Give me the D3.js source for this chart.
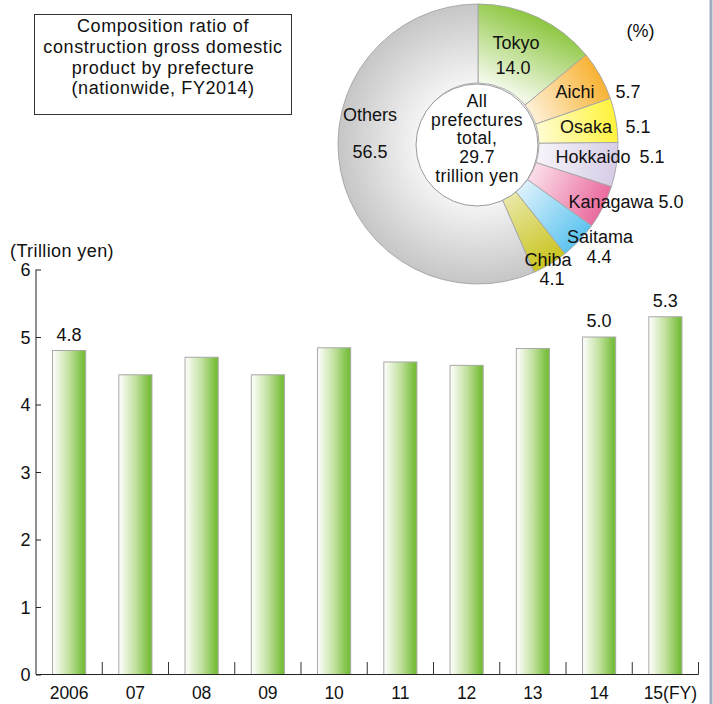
<!DOCTYPE html>
<html>
<head>
<meta charset="utf-8">
<script src="https://cdn.jsdelivr.net/npm/d3@7"></script>
<style>
  html, body { margin: 0; padding: 0; background: #fff; }
  svg { display: block; font-family: "Liberation Sans", Arial, Helvetica, sans-serif; fill: #111; }
</style>
</head>
<body>
<svg id="chart" width="713" height="704"></svg>
<script>
// Construction gross domestic product, nationwide (trillion yen)
const years = ["2006", "07", "08", "09", "10", "11", "12", "13", "14", "15(FY)"];
const gdp = [4.8, 4.44, 4.70, 4.44, 4.84, 4.63, 4.58, 4.83, 5.0, 5.3];
const labelledYears = ["2006", "14", "15(FY)"];
const yTicks = [0, 1, 2, 3, 4, 5, 6];

// Share of construction GDP by prefecture, FY2014 (%)
const prefectures = ["Tokyo", "Aichi", "Osaka", "Hokkaido", "Kanagawa", "Saitama", "Chiba", "Others"];
const shares = [14.0, 5.7, 5.1, 5.1, 5.0, 4.4, 4.1, 56.5];
const totalTrillionYen = 29.7;

const titleLines = ["Composition ratio of", "construction gross domestic", "product by prefecture", "(nationwide, FY2014)"];

// Slice colours: saturated tone at the rim, pale tone toward the hole
const sliceDark  = ["#8cc63f", "#f8b233", "#fff33b", "#d6cde6", "#ea6a9e", "#5cc3ef", "#c9c41e", "#c6c6c6"];
const sliceLight = ["#f1f8e6", "#fef0d6", "#fffcd2", "#f6f3fa", "#fbdeea", "#dcf1fb", "#e9e7a6", "#f4f4f4"];

// Label anchors relative to the pie centre: [name dx, name dy, value dx, value dy]
const labelSpots = {
  Tokyo:    [38, -95, 35, -70],
  Aichi:    [97, -46, 150, -46],
  Osaka:    [108, -11, 160, -11],
  Hokkaido: [115, 19, 174, 19],
  Kanagawa: [133, 64, 193, 64],
  Saitama:  [122, 99, 121, 119],
  Chiba:    [70, 122, 74, 141],
  Others:   [-108, -23, -108, 14]
};

const svg = d3.select("#chart");
const defs = svg.append("defs");
const fmt = d3.format(".1f");

// ---------- bar chart ----------
const x = d3.scaleBand().domain(years).range([36, 698.5]).paddingInner(0.5).paddingOuter(0.25);
const y = d3.scaleLinear().domain([0, 6]).range([674.5, 269.5]);

const barGrad = defs.append("linearGradient").attr("id", "barGrad")
  .attr("x1", 0).attr("x2", 1).attr("y1", 0).attr("y2", 0);
barGrad.append("stop").attr("offset", 0).attr("stop-color", "#ffffff");
barGrad.append("stop").attr("offset", 0.5).attr("stop-color", "#c2e19f");
barGrad.append("stop").attr("offset", 0.92).attr("stop-color", "#79bf3d");
barGrad.append("stop").attr("offset", 1).attr("stop-color", "#76bd3a");

svg.append("g").selectAll("rect").data(years).join("rect")
  .attr("x", d => x(d))
  .attr("y", (d, i) => y(gdp[i]))
  .attr("width", x.bandwidth())
  .attr("height", (d, i) => y(0) - y(gdp[i]))
  .attr("fill", "url(#barGrad)")
  .attr("stroke", "#a8a8a8")
  .attr("stroke-width", 1);

svg.append("g").selectAll("text").data(years.filter(d => labelledYears.includes(d))).join("text")
  .attr("x", d => x(d) + x.bandwidth() / 2)
  .attr("y", d => y(gdp[years.indexOf(d)]) - 10)
  .attr("text-anchor", "middle")
  .attr("font-size", 18)
  .text(d => fmt(gdp[years.indexOf(d)]));

// y axis: ticks point inward
const yAxis = d3.axisRight(y).tickValues(yTicks).tickSize(5).tickFormat("");
const yg = svg.append("g").attr("transform", "translate(36,0)").call(yAxis);
yg.select(".domain").attr("d", `M0,${y(6)}V${y(0)}`).attr("stroke", "#222");
yg.selectAll(".tick line").attr("stroke", "#222");
svg.append("g").selectAll("text").data(yTicks).join("text")
  .attr("x", 30.5)
  .attr("y", d => y(d) + 6.5)
  .attr("text-anchor", "end")
  .attr("font-size", 18)
  .text(d => d);

svg.append("text").attr("x", 10).attr("y", 257).attr("font-size", 18)
  .attr("letter-spacing", 0.4).text("(Trillion yen)");

// x axis with short separators between categories
const xg = svg.append("g");
xg.append("line").attr("x1", 36).attr("x2", 698.5).attr("y1", y(0)).attr("y2", y(0))
  .attr("stroke", "#222");
const bounds = years.map((d, i) => x.range()[0] + (i + 1) * x.step());
xg.selectAll("line.sep").data(bounds).join("line").attr("class", "sep")
  .attr("x1", d => d).attr("x2", d => d)
  .attr("y1", y(0)).attr("y2", y(0) - 12.5)
  .attr("stroke", "#333");
xg.selectAll("text").data(years).join("text")
  .attr("x", d => x(d) + x.bandwidth() / 2 + (d.includes("(") ? 5 : 0))
  .attr("y", 699)
  .attr("text-anchor", "middle")
  .attr("font-size", 17.5)
  .text(d => d);

// ---------- title box ----------
svg.append("rect").attr("x", 34.5).attr("y", 14.5).attr("width", 257).attr("height", 100)
  .attr("fill", "#fff").attr("stroke", "#333");
svg.append("g").selectAll("text").data(titleLines).join("text")
  .attr("x", 163).attr("y", (d, i) => 32 + i * 20.8)
  .attr("text-anchor", "middle").attr("font-size", 18).attr("letter-spacing", 0.6)
  .text(d => d);

// ---------- doughnut ----------
const cx = 478, cy = 144, rOuter = 140, rInner = 61;
const pieG = svg.append("g").attr("transform", `translate(${cx},${cy})`);
const arcs = d3.pie().sort(null).value(d => d)(shares);
const arc = d3.arc().innerRadius(rInner).outerRadius(rOuter);
const polar = (a, r) => [Math.sin(a) * r, -Math.cos(a) * r];

arcs.forEach((a, i) => {
  const id = "slice" + i;
  if (prefectures[i] === "Others") {
    const g = defs.append("radialGradient").attr("id", id).attr("gradientUnits", "userSpaceOnUse")
      .attr("cx", 0).attr("cy", 0).attr("r", rOuter);
    g.append("stop").attr("offset", rInner / rOuter).attr("stop-color", sliceLight[i]);
    g.append("stop").attr("offset", 1).attr("stop-color", sliceDark[i]);
  } else {
    const mid = (a.startAngle + a.endAngle) / 2;
    const p0 = polar(mid, rInner), p1 = polar(mid, rOuter);
    const g = defs.append("linearGradient").attr("id", id).attr("gradientUnits", "userSpaceOnUse")
      .attr("x1", p0[0]).attr("y1", p0[1]).attr("x2", p1[0]).attr("y2", p1[1]);
    g.append("stop").attr("offset", 0).attr("stop-color", sliceLight[i]);
    g.append("stop").attr("offset", 1).attr("stop-color", sliceDark[i]);
  }
});

pieG.selectAll("path").data(arcs).join("path")
  .attr("d", arc)
  .attr("fill", (d, i) => `url(#slice${i})`)
  .attr("stroke", "#a4a4a4")
  .attr("stroke-width", 0.9);

pieG.append("circle").attr("cx", -1).attr("cy", 1).attr("r", rInner)
  .attr("fill", "#fff").attr("stroke", "#9a9a9a");

const centreLines = ["All", "prefectures", "total,", fmt(totalTrillionYen), "trillion yen"];
pieG.append("g").selectAll("text").data(centreLines).join("text")
  .attr("x", -1).attr("y", (d, i) => -37 + i * 18.7)
  .attr("text-anchor", "middle").attr("font-size", 17.5).attr("letter-spacing", 0.4)
  .text(d => d);

const lab = pieG.append("g").attr("font-size", 18);
prefectures.forEach((p, i) => {
  const s = labelSpots[p];
  lab.append("text").attr("x", s[0]).attr("y", s[1]).attr("text-anchor", "middle").text(p);
  lab.append("text").attr("x", s[2]).attr("y", s[3]).attr("text-anchor", "middle").text(fmt(shares[i]));
});
svg.append("text").attr("x", 640.5).attr("y", 37).attr("text-anchor", "middle")
  .attr("font-size", 18).text("(%)");

// frame rule along the right edge
svg.append("rect").attr("x", 709.5).attr("y", 0).attr("width", 3).attr("height", 704)
  .attr("fill", "#9eadc3");
</script>
</body>
</html>
